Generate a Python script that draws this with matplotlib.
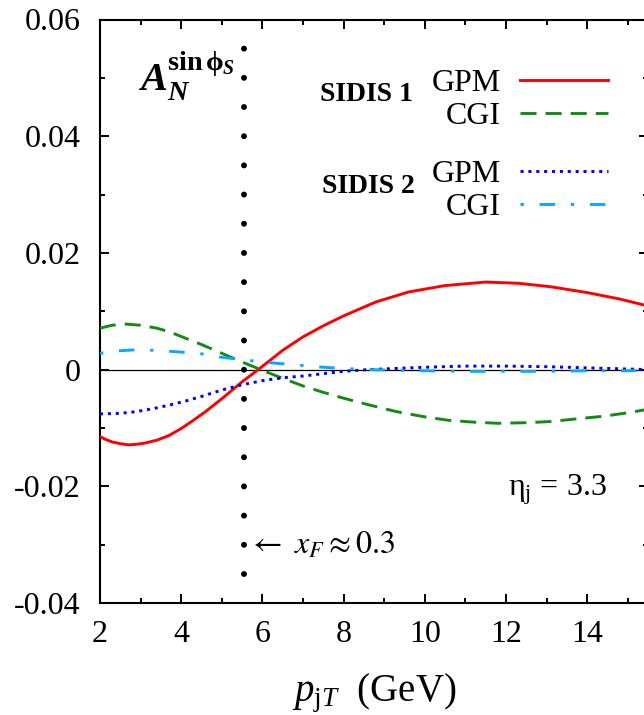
import matplotlib
matplotlib.use("Agg")
import matplotlib.pyplot as plt
from matplotlib.ticker import MultipleLocator, FixedLocator, FixedFormatter

plt.rcParams['font.family'] = ['Liberation Serif', 'DejaVu Serif']
plt.rcParams['mathtext.fontset'] = 'custom'
plt.rcParams['mathtext.rm'] = 'Liberation Serif'
plt.rcParams['mathtext.it'] = 'Liberation Serif:italic'
plt.rcParams['mathtext.bf'] = 'Liberation Serif:bold'
plt.rcParams['mathtext.bfit'] = 'Liberation Serif:italic:bold'
plt.rcParams['mathtext.fallback'] = 'stix'

# ---------------- data ----------------
sidis1_gpm_x = [2.0, 2.15, 2.3, 2.5, 2.7, 2.9, 3.1, 3.4, 3.7, 4.0, 4.3, 4.6, 5.0, 5.5,
                5.9, 6.5, 7.0, 7.5, 8.0, 8.8, 9.6, 10.5, 11.5, 12.3, 13.1, 14.0,
                14.8, 15.5]
sidis1_gpm_y = [-0.0115, -0.0120, -0.0124, -0.0127, -0.0129, -0.0128, -0.0126, -0.0121,
                -0.0113, -0.0101, -0.0087, -0.0072, -0.0050, -0.0021, 0.0000, 0.0033,
                0.0056, 0.0075, 0.0092, 0.0116, 0.0133, 0.0144, 0.0150, 0.0148,
                0.0142, 0.0132, 0.0121, 0.0109]

sidis1_cgi_x = [2.0, 2.3, 2.65, 3.0, 3.4, 3.7, 4.1, 4.5, 5.0, 5.5, 6.1, 6.5, 7.0, 7.5,
                8.0, 8.6, 9.3, 10.0, 10.6, 11.2, 11.8, 12.5, 13.1, 13.8, 14.4, 15.0, 15.5]
sidis1_cgi_y = [0.0071, 0.0076, 0.0078, 0.0076, 0.0071, 0.0065, 0.0054, 0.0043, 0.0028,
                0.0013, -0.0004, -0.0015, -0.0028, -0.0039, -0.0049, -0.0060, -0.0072,
                -0.0081, -0.0087, -0.0090, -0.0092, -0.0091, -0.0089, -0.0084, -0.0080,
                -0.0074, -0.0068]

sidis2_gpm_x = [2.0, 2.5, 2.9, 3.3, 3.7, 4.1, 4.5, 5.0, 5.5, 6.0, 6.5, 7.0, 7.5, 8.0,
                8.6, 9.3, 10.0, 11.0, 12.0, 13.0, 14.0, 15.0, 15.5]
sidis2_gpm_y = [-0.0076, -0.0075, -0.0072, -0.0067, -0.0061, -0.0054, -0.0046, -0.0035,
                -0.0026, -0.0019, -0.0014, -0.0011, -0.0007, -0.0003, 0.0000, 0.0002,
                0.0004, 0.0006, 0.0006, 0.0005, 0.0003, 0.0001, 0.0000]

sidis2_cgi_x = [2.0, 2.4, 2.9, 3.4, 3.8, 4.0, 4.5, 5.0, 5.5, 6.0, 6.5, 7.0, 7.5, 8.0,
                8.6, 9.3, 10.0, 11.0, 12.0, 13.0, 14.0, 15.0, 15.5]
sidis2_cgi_y = [0.0028, 0.0032, 0.0034, 0.0033, 0.0031, 0.0030, 0.0027, 0.0021, 0.0017,
                0.0013, 0.0010, 0.0007, 0.0004, 0.0002, 0.0000, -0.0001, -0.0002,
                -0.0003, -0.0003, -0.0003, -0.0002, -0.0002, -0.0001]

xF_line_x = 5.55
xF_line_y = [-0.035, 0.0551]

x_ticks = [2, 4, 6, 8, 10, 12, 14]
x_tick_labels = ['2', '4', '6', '8', '10', '12', '14']
y_ticks = [-0.04, -0.02, 0.0, 0.02, 0.04, 0.06]
y_tick_labels = ['-0.04', '-0.02', '0', '0.02', '0.04', '0.06']

# ---------------- figure ----------------
fig = plt.figure(figsize=(6.44, 7.15), dpi=100)
ax = fig.add_axes([100/644, (715-603)/715, 548/644, 583.5/715])
ax.set_xlim(2, 15.5)
ax.set_ylim(-0.04, 0.06)

red = '#ff0000'
green = '#138a13'
blue = '#0000f5'
cyan = '#0aa8ff'
LW = 2.1

ax.axhline(0, color='black', lw=0.9, zorder=1)

l1, = ax.plot(sidis1_gpm_x, sidis1_gpm_y, color=red, lw=LW, zorder=3)
l2, = ax.plot(sidis1_cgi_x, sidis1_cgi_y, color=green, lw=LW,
              linestyle=(0, (5.5, 3.1)), zorder=3)
l3, = ax.plot(sidis2_gpm_x, sidis2_gpm_y, color=blue, lw=LW,
              linestyle=(0, (1.05, 1.65)), zorder=3)
l4, = ax.plot(sidis2_cgi_x, sidis2_cgi_y, color=cyan, lw=LW,
              linestyle=(0, (1.15, 5.4, 5.3, 5.4)), zorder=3)

ax.plot([xF_line_x, xF_line_x], xF_line_y, color='black', lw=4.3,
        linestyle=(0, (0.001, 4.886)), dash_capstyle='round', zorder=2)

# axes styling
for s in ax.spines.values():
    s.set_linewidth(1.5)
ax.xaxis.set_major_locator(FixedLocator(x_ticks))
ax.xaxis.set_major_formatter(FixedFormatter(x_tick_labels))
ax.xaxis.set_minor_locator(MultipleLocator(1))
ax.yaxis.set_major_locator(FixedLocator(y_ticks))
ax.yaxis.set_major_formatter(FixedFormatter(y_tick_labels))
ax.yaxis.set_minor_locator(MultipleLocator(0.01))
ax.tick_params(which='both', direction='in', top=True, right=True, width=1.4)
ax.tick_params(which='major', length=6.5)
ax.tick_params(which='minor', length=3.3)
ax.tick_params(axis='y', which='major', pad=14, labelsize=23)
ax.tick_params(axis='x', which='major', pad=12, labelsize=23)

ax.set_xlabel(r'$p_{\mathrm{j}T}$  (GeV)', fontsize=28)
ax.xaxis.set_label_coords(0.5, -0.154)
ax.xaxis.label.set_va('center')

# legends
leg_kw = dict(loc='center right', frameon=False, markerfirst=False, fontsize=23,
              handlelength=2.75, handletextpad=0.6, borderpad=0, borderaxespad=0,
              labelspacing=0.125)
leg1 = ax.legend([l1, l2], ['GPM', 'CGI'], bbox_to_anchor=(0.927, 0.862), **leg_kw)
ax.add_artist(leg1)
leg2 = ax.legend([l3, l4], ['GPM', 'CGI'], bbox_to_anchor=(0.927, 0.706), **leg_kw)

ax.text(0.571, 0.872, 'SIDIS 1', transform=ax.transAxes, ha='right', va='center',
        fontsize=20, fontweight='bold')
ax.text(0.575, 0.713, 'SIDIS 2', transform=ax.transAxes, ha='right', va='center',
        fontsize=20, fontweight='bold')

ax.text(0.0693, 0.902,
        r'$\mathbfit{A}_{\mathbfit{N}}^{\mathbf{sin}\,\mathbf{\phi}_{\mathbfit{S}}}$',
        transform=ax.transAxes, ha='left', va='center', fontsize=29)

ax.text(0.270, 0.0977, r'$\leftarrow\ x_F \approx 0.3$', transform=ax.transAxes,
        ha='left', va='center', fontsize=23, math_fontfamily='stix')

ax.text(0.925, 0.1834, r'$\mathrm{\eta}_{\mathrm{j}}$ = 3.3', transform=ax.transAxes,
        ha='right', va='baseline', fontsize=23)

fig.savefig('out.png', dpi=100)
